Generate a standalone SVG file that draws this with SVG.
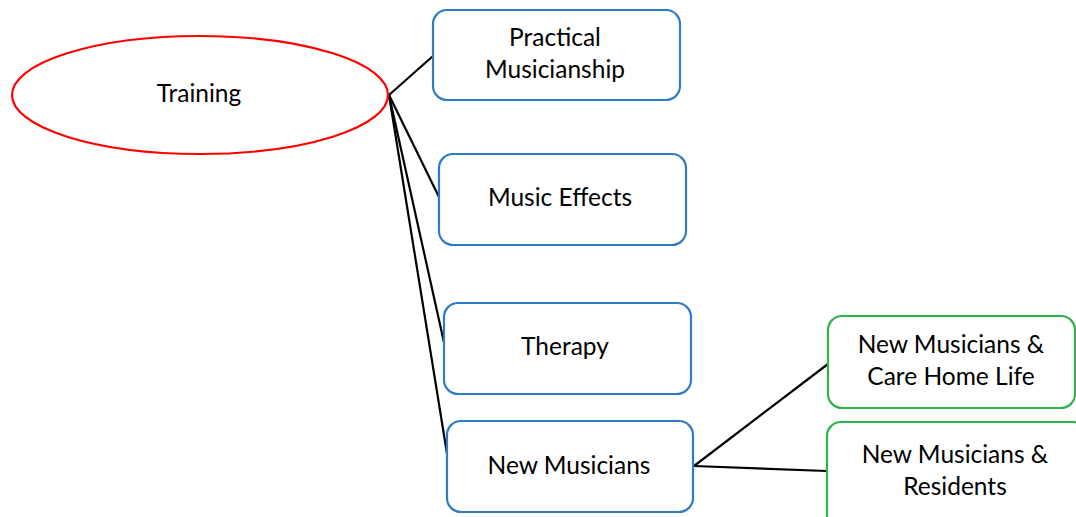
<svg xmlns="http://www.w3.org/2000/svg" width="1076" height="517" viewBox="0 0 1076 517">
<style>
.bg{fill:#ffffff}
.blue{fill:#ffffff;stroke:#2e7bc6;stroke-width:2.2}
.green{fill:#ffffff;stroke:#2fb34a;stroke-width:2.2}
.oval{fill:#ffffff;stroke:#ff0000;stroke-width:2.2}
.lbl{font-family:Lato,"Open Sans","Liberation Sans",sans-serif;font-size:24.5px;fill:#000000;text-anchor:middle}
.conn line{stroke:#000000;stroke-width:2.2}
</style>
<rect class="bg" x="0" y="0" width="1076" height="517"/>
<g id="connectors" class="conn">
<line x1="389" y1="95" x2="433" y2="56"/>
<line x1="389" y1="95" x2="439" y2="197"/>
<line x1="389" y1="95" x2="445" y2="347"/>
<line x1="389" y1="95" x2="449" y2="466"/>
<line x1="694" y1="466" x2="828" y2="364"/>
<line x1="694" y1="466" x2="827" y2="471"/>
</g>
<g id="training">
<ellipse class="oval" cx="200" cy="95" rx="188" ry="59"/>
<text class="lbl" x="199" y="102">Training</text>
</g>
<g id="practical">
<rect class="blue" x="433" y="10" width="247" height="90" rx="14"/>
<text class="lbl" x="555" y="46">Practical</text>
<text class="lbl" x="555" y="78">Musicianship</text>
</g>
<g id="effects">
<rect class="blue" x="439" y="154" width="247" height="91" rx="14"/>
<text class="lbl" x="560" y="206">Music Effects</text>
</g>
<g id="therapy">
<rect class="blue" x="444" y="303" width="247" height="91" rx="14"/>
<text class="lbl" x="565" y="355">Therapy</text>
</g>
<g id="newmusicians">
<rect class="blue" x="447" y="421" width="246" height="91" rx="14"/>
<text class="lbl" x="569" y="474">New Musicians</text>
</g>
<g id="carehome">
<rect class="green" x="828" y="316" width="247" height="92" rx="14"/>
<text class="lbl" x="951" y="353">New Musicians &amp;</text>
<text class="lbl" x="951" y="385">Care Home Life</text>
</g>
<g id="residents">
<rect class="green" x="827" y="422" width="260" height="110" rx="14"/>
<text class="lbl" x="955" y="463">New Musicians &amp;</text>
<text class="lbl" x="955" y="495">Residents</text>
</g>
</svg>
